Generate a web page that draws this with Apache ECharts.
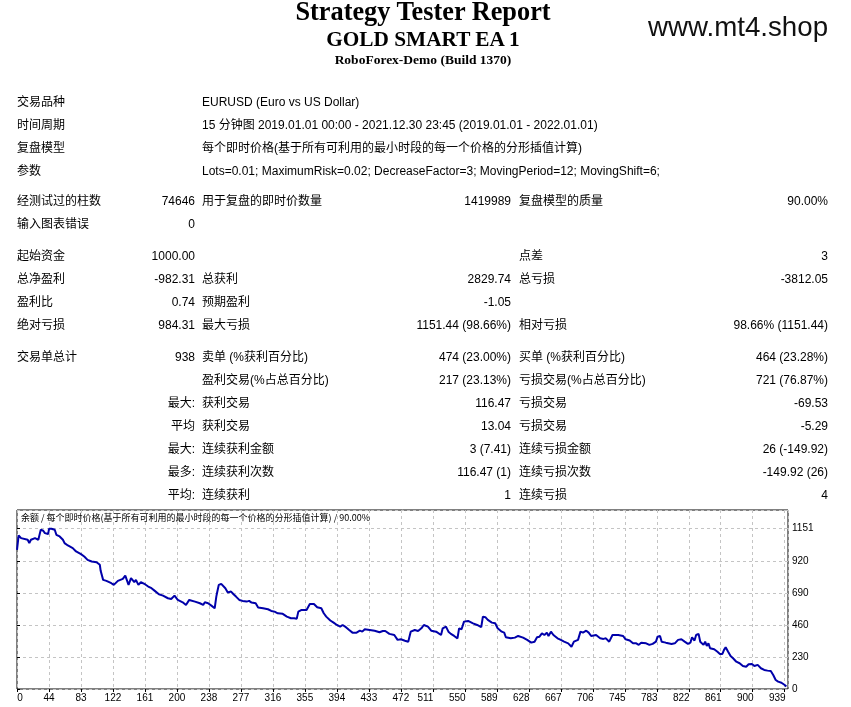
<!DOCTYPE html>
<html>
<head>
<meta charset="utf-8">
<script src="https://cdn.jsdelivr.net/npm/echarts@6.0.0/dist/echarts.min.js"></script>
<style>
html,body{margin:0;padding:0;background:#fff;}
#page{position:relative;width:851px;height:707px;overflow:hidden;}
#main{position:absolute;left:0;top:0;width:851px;height:707px;z-index:0;}
.t{position:absolute;white-space:nowrap;font-family:"Liberation Sans","Noto Sans CJK SC",sans-serif;font-size:12px;line-height:16px;color:#000;z-index:1;}
.hd{position:absolute;white-space:nowrap;font-family:"Liberation Serif",serif;font-weight:bold;line-height:1;color:#000;z-index:1;transform:translateX(-50%);}
#site{position:absolute;left:648px;top:11px;font-family:"Liberation Sans",sans-serif;font-size:27.7px;color:#111;z-index:1;}
</style>
</head>
<body>
<div id="page">
	<div id="main"></div>
	<div class="hd" style="left:423px;top:0px;font-size:26.3px;line-height:0.9;">Strategy Tester Report</div>
	<div class="hd" style="left:423px;top:28.7px;font-size:21.3px;">GOLD SMART EA 1</div>
	<div class="hd" style="left:423px;top:53px;font-size:13.5px;">RoboForex-Demo (Build 1370)</div>
	<div id="site">www.mt4.shop</div>
</div>
<script>
// 余额曲线 (交易序号 / 余额)
var tradeIdx = [0,2,5,13,15,17,22,24,26,28,29,32,34,36,38,39,42,46,48,52,56,58,62,68,72,78,82,86,91,97,
	101,102,105,109,115,118,123,129,132,134,136,139,143,145,148,151,156,160,164,168,173,178,184,188,192,196,202,206,208,210,
	217,223,227,229,233,237,239,241,243,244,246,249,251,254,257,261,264,267,271,275,280,283,286,291,294,300,306,310,314,318,
	324,329,334,338,341,343,347,353,355,357,362,366,371,374,377,382,386,390,394,397,401,405,409,414,418,421,424,426,430,436,
	442,446,449,454,460,464,468,473,477,480,485,489,493,496,501,505,511,517,519,523,526,529,533,537,539,542,545,550,556,561,
	566,568,571,574,579,583,586,591,594,596,602,607,611,617,622,627,631,634,637,640,643,646,648,651,654,659,663,667,672,676,
	679,684,687,690,694,697,700,706,711,715,718,722,724,726,733,739,742,747,751,755,758,761,767,771,775,779,781,784,786,791,
	798,802,806,810,814,818,821,823,826,828,831,833,835,837,839,841,843,845,850,854,857,860,862,864,867,870,873,877,881,885,
	889,892,896,899,903,907,911,915,919,922,925,928,932,936,938];
var balance = [1000,1103,1084,1072,1048,1072,1084,1091,1072,1084,1145,1137,1120,1132,1113,1151,1151,1144,1108,1096,1072,1048,1031,1012,988,969,952,928,916,911,
	892,849,784,777,760,748,777,791,815,825,748,796,767,784,748,767,753,736,724,705,681,671,652,647,671,640,623,604,609,640,
	628,616,604,623,616,599,592,580,664,693,748,755,741,724,693,700,681,664,640,633,628,633,621,616,585,580,573,561,556,544,
	540,520,508,508,504,556,568,568,563,611,611,587,580,544,520,492,477,460,448,460,444,424,405,405,419,412,429,436,424,419,
	408,417,417,396,388,353,357,347,340,412,424,417,436,460,448,419,412,388,436,448,412,396,381,364,436,429,484,489,472,460,
	444,520,516,496,477,472,436,412,405,372,364,369,381,369,353,333,340,372,376,400,388,405,381,412,388,364,353,340,328,304,
	340,353,412,405,419,405,381,388,364,360,364,340,364,388,388,381,357,348,328,328,317,333,328,317,324,340,376,381,340,333,
	324,328,353,357,340,324,333,372,348,388,396,340,333,317,340,309,328,293,286,268,252,252,281,300,268,237,221,196,185,165,
	160,178,180,165,173,149,137,132,129,101,65,53,45,29,18];
var xTickLabels = ['0','44','83','122','161','200','238','277','316','355','394','433','472','511','550','589','628','667','706','745','783','822','861','900','939'];
var yTickLabels = ['0','230','460','690','920','1151'];
var yStep = 1151.44 / 5;

// 报表表格
var rows = [
	[101, [17,'交易品种'], [202,'EURUSD (Euro vs US Dollar)']],
	[124, [17,'时间周期'], [202,'15 分钟图 2019.01.01 00:00 - 2021.12.30 23:45 (2019.01.01 - 2022.01.01)']],
	[147, [17,'复盘模型'], [202,'每个即时价格(基于所有可利用的最小时段的每一个价格的分形插值计算)']],
	[170, [17,'参数'], [202,'Lots=0.01; MaximumRisk=0.02; DecreaseFactor=3; MovingPeriod=12; MovingShift=6;']],
	[200, [17,'经测试过的柱数'], [195,'74646','r'], [202,'用于复盘的即时价数量'], [511,'1419989','r'], [519,'复盘模型的质量'], [828,'90.00%','r']],
	[223, [17,'输入图表错误'], [195,'0','r']],
	[255, [17,'起始资金'], [195,'1000.00','r'], [519,'点差'], [828,'3','r']],
	[278, [17,'总净盈利'], [195,'-982.31','r'], [202,'总获利'], [511,'2829.74','r'], [519,'总亏损'], [828,'-3812.05','r']],
	[301, [17,'盈利比'], [195,'0.74','r'], [202,'预期盈利'], [511,'-1.05','r']],
	[324, [17,'绝对亏损'], [195,'984.31','r'], [202,'最大亏损'], [511,'1151.44 (98.66%)','r'], [519,'相对亏损'], [828,'98.66% (1151.44)','r']],
	[356, [17,'交易单总计'], [195,'938','r'], [202,'卖单 (%获利百分比)'], [511,'474 (23.00%)','r'], [519,'买单 (%获利百分比)'], [828,'464 (23.28%)','r']],
	[379, [202,'盈利交易(%占总百分比)'], [511,'217 (23.13%)','r'], [519,'亏损交易(%占总百分比)'], [828,'721 (76.87%)','r']],
	[402, [195,'最大:','r'], [202,'获利交易'], [511,'116.47','r'], [519,'亏损交易'], [828,'-69.53','r']],
	[425, [195,'平均','r'], [202,'获利交易'], [511,'13.04','r'], [519,'亏损交易'], [828,'-5.29','r']],
	[448, [195,'最大:','r'], [202,'连续获利金额'], [511,'3 (7.41)','r'], [519,'连续亏损金额'], [828,'26 (-149.92)','r']],
	[471, [195,'最多:','r'], [202,'连续获利次数'], [511,'116.47 (1)','r'], [519,'连续亏损次数'], [828,'-149.92 (26)','r']],
	[494, [195,'平均:','r'], [202,'连续获利'], [511,'1','r'], [519,'连续亏损'], [828,'4','r']]
];

function renderRows(){
	var page = document.getElementById('page');
	for(var i=0;i<rows.length;i++){
		var y = rows[i][0];
		for(var j=1;j<rows[i].length;j++){
			var c = rows[i][j];
			var el = document.createElement('div');
			el.className = 't';
			el.textContent = c[1];
			el.style.top = (y - 7.5) + 'px';
			if(c[2] == 'r'){
				el.style.right = (851 - c[0]) + 'px';
			}else{
				el.style.left = c[0] + 'px';
			}
			page.appendChild(el);
		}
	}
}

function initChart(){
	var myChart = echarts.init(document.getElementById('main'));
	var pts = [];
	for(var i=0;i<tradeIdx.length;i++){
		pts.push([tradeIdx[i], balance[i]]);
	}
	var grey = {show:true, lineStyle:{color:'#c4c4c4', type:[3,3], width:1}};
	var lbl = {color:'#000', fontSize:10, fontFamily:'Liberation Sans'};
	var option = {
		animation:false,
		title:{
			text:'余额 / 每个即时价格(基于所有可利用的最小时段的每一个价格的分形插值计算) / 90.00%',
			left:21, top:513, padding:0,
			textStyle:{fontSize:9, fontWeight:'normal', color:'#000', fontFamily:'Noto Sans CJK SC'}
		},
		grid:{left:17, right:63, top:510, bottom:18, show:true, borderColor:'#000', borderWidth:1, backgroundColor:'transparent'},
		xAxis:{
			type:'value', min:0, max:940, interval:39,
			axisLine:{show:false},
			axisTick:{show:true, length:3, lineStyle:{color:'#000'}},
			splitLine:grey,
			axisLabel:{
				color:lbl.color, fontSize:lbl.fontSize, fontFamily:lbl.fontFamily, margin:4, showMaxLabel:false,
				formatter:function(v){
					var k = Math.round(v/39);
					var s = xTickLabels[k] || '';
					//MT4 右半部分的标签偏左
					if(k == 0) return '{f|' + s + '}';
					if(k >= 13) return '{r|' + s + '}';
					return s;
				},
				rich:{
					f:{color:lbl.color, fontSize:lbl.fontSize, fontFamily:lbl.fontFamily, padding:[0,0,0,6]},
					r:{color:lbl.color, fontSize:lbl.fontSize, fontFamily:lbl.fontFamily, padding:[0,15,0,0]}
				}
			}
		},
		yAxis:{
			type:'value', position:'right', min:0, max:1286, interval:yStep,
			axisLine:{show:false},
			axisTick:{show:true, length:3, lineStyle:{color:'#000'}},
			splitLine:grey,
			axisLabel:{
				color:lbl.color, fontSize:lbl.fontSize, fontFamily:lbl.fontFamily, margin:4, showMaxLabel:false,
				formatter:function(v){ var k = Math.round(v/yStep); return yTickLabels[k] || ''; }
			}
		},
		series:[{
			type:'line', data:pts, symbol:'none', silent:true,
			lineStyle:{color:'#0000aa', width:2}
		}]
	};
	myChart.setOption(option);
}

renderRows();
initChart();
</script>
</body>
</html>
